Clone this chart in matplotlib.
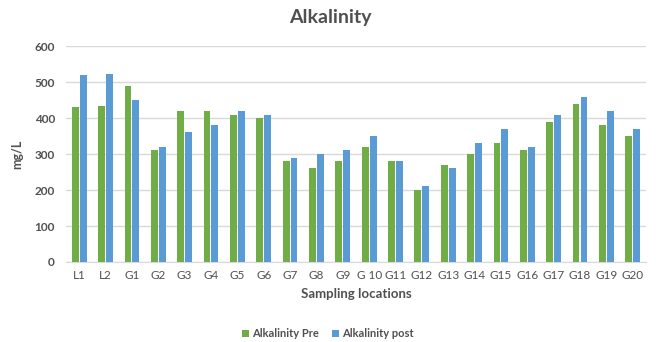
import numpy as np
import matplotlib.pyplot as plt

# Alkalinity per sampling location
locations = ['L1', 'L2', 'G1', 'G2', 'G3', 'G4', 'G5', 'G6', 'G7', 'G8', 'G9',
             'G 10', 'G11', 'G12', 'G13', 'G14', 'G15', 'G16', 'G17', 'G18', 'G19', 'G20']
alk_pre = [430, 435, 490, 310, 420, 420, 410, 400, 280, 260, 280,
           320, 280, 200, 270, 300, 330, 310, 390, 440, 380, 350]
alk_post = [520, 523, 450, 320, 360, 380, 420, 410, 290, 300, 310,
            350, 280, 210, 260, 330, 370, 320, 410, 460, 420, 370]

plt.rcParams['font.family'] = ['Lato', 'DejaVu Sans']
grey = '#505050'

fig = plt.figure(figsize=(6.56, 3.42), dpi=100)
ax = fig.add_axes([0.1006, 0.234, 0.884, 0.631])

x = np.arange(len(locations))
w = 0.26
ax.bar(x - 0.15, alk_pre, w, color='#70AD47', label='Alkalinity Pre', zorder=3)
ax.bar(x + 0.15, alk_post, w, color='#5B9BD5', label='Alkalinity post', zorder=3)

ax.set_xlim(-0.5, len(locations) - 0.5)
ax.set_ylim(0, 600)
ax.set_yticks(range(0, 601, 100))
ax.yaxis.grid(True, color='#D9D9D9', linewidth=1, zorder=0)
ax.set_xticks(x)
ax.set_xticklabels(locations)
ax.tick_params(axis='both', length=0, labelsize=8.5, colors=grey, labelcolor=grey)
ax.tick_params(axis='x', pad=6)
ax.tick_params(axis='y', pad=8)
for t in ax.get_yticklabels():
    t.set_fontweight('bold')
for s in ['top', 'right', 'left']:
    ax.spines[s].set_visible(False)
ax.spines['bottom'].set_color('#D9D9D9')

ax.set_ylabel('mg/L', fontsize=9, fontweight='bold', color=grey, labelpad=8)
ax.set_xlabel('Sampling locations', fontsize=9.5, fontweight='bold', color=grey, labelpad=5)
fig.text(0.503, 0.948, 'Alkalinity', ha='center', va='center', fontsize=14,
         fontweight='bold', color=grey)

leg = fig.legend(loc='center', bbox_to_anchor=(0.5, 0.025), ncol=2, frameon=False,
                 fontsize=8, handlelength=0.6, handleheight=0.6, handletextpad=0.3,
                 columnspacing=1.2, borderpad=0.1)
for t in leg.get_texts():
    t.set_color(grey)
    t.set_fontweight('bold')

fig.savefig('out.png', dpi=100)
